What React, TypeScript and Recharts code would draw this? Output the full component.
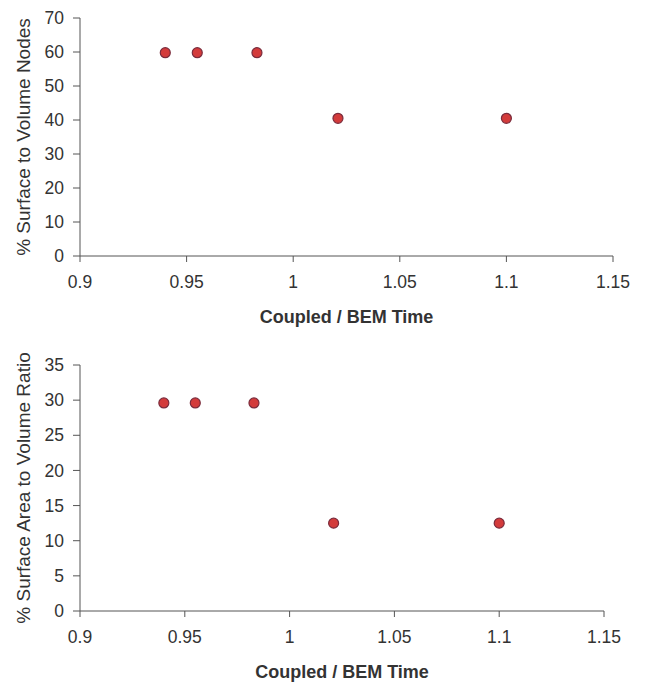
import React from 'react';
import { ScatterChart, Scatter, XAxis, YAxis, Label } from 'recharts';

// ratio of coupled solve time to BEM-only solve time
const timeRatio = [0.94, 0.955, 0.983, 1.021, 1.1];
// % surface nodes vs volume nodes
const surfaceNodesPct = [59.8, 59.8, 59.8, 40.5, 40.5];
// % surface area vs volume ratio
const surfaceAreaPct = [29.6, 29.6, 29.6, 12.5, 12.5];

const xTicks = [0.9, 0.95, 1, 1.05, 1.1, 1.15];
const nodeTicks = [0, 10, 20, 30, 40, 50, 60, 70];
const areaTicks = [0, 5, 10, 15, 20, 25, 30, 35];

const nodesData = timeRatio.map((x, i) => ({ x, y: surfaceNodesPct[i] }));
const areaData = timeRatio.map((x, i) => ({ x, y: surfaceAreaPct[i] }));

const FONT = '"Liberation Sans", Arial, sans-serif';
const AXIS = '#555';
const TEXT = '#333';

const Dot = (props: any) => {
  const { cx, cy } = props;
  return <circle cx={cx} cy={cy} r={5} fill="#d33b3b" stroke="#7a2c3c" strokeWidth={1.2} />;
};

const YTitle = (text: string) => (props: any) => {
  const vb = props.viewBox || {};
  const x = 23;
  const y = vb.y + vb.height / 2;
  return (
    <text x={x} y={y} transform={`rotate(-90 ${x} ${y})`} textAnchor="middle" dominantBaseline="central"
      fontFamily={FONT} fontSize={19} fill={TEXT}>{text}</text>
  );
};

const XTitle = (props: any) => {
  const vb = props.viewBox || {};
  const x = vb.x + vb.width / 2;
  return (
    <text x={x} y={vb.y + 61} textAnchor="middle" dominantBaseline="central"
      fontFamily={FONT} fontSize={18} fontWeight="bold" fill={TEXT}>Coupled / BEM Time</text>
  );
};

const fmt = (v: number) => String(+v.toFixed(2));

function Panel(props: { data: any[]; ticks: number[]; title: string; margin: any }) {
  const { data, ticks, title, margin } = props;
  const tickStyle = { fontFamily: FONT, fontSize: 17.5, fill: TEXT };
  return (
    <ScatterChart width={645} height={345} margin={margin}>
      <XAxis type="number" dataKey="x" domain={[0.9, 1.15]} ticks={xTicks} tickFormatter={fmt}
        interval={0} allowDataOverflow height={80} stroke={AXIS} tickSize={6} tickMargin={14}
        tick={tickStyle} tickLine={{ stroke: AXIS }}>
        <Label content={XTitle} />
      </XAxis>
      <YAxis type="number" dataKey="y" domain={[ticks[0], ticks[ticks.length - 1]]} ticks={ticks}
        interval={0} width={80} stroke={AXIS} tickSize={7} tickMargin={9} tick={tickStyle}
        tickLine={{ stroke: AXIS }}>
        <Label content={YTitle(title)} />
      </YAxis>
      <Scatter data={data} shape={Dot} isAnimationActive={false} />
    </ScatterChart>
  );
}

export default function App() {
  return (
    <div style={{ position: 'absolute', left: 0, top: 0, width: 645, height: 690, background: '#fff' }}>
      <Panel data={nodesData} ticks={nodeTicks} title="% Surface to Volume Nodes"
        margin={{ top: 18, right: 32, bottom: 9, left: 0 }} />
      <Panel data={areaData} ticks={areaTicks} title="% Surface Area to Volume Ratio"
        margin={{ top: 20, right: 41, bottom: -1, left: 0 }} />
    </div>
  );
}
